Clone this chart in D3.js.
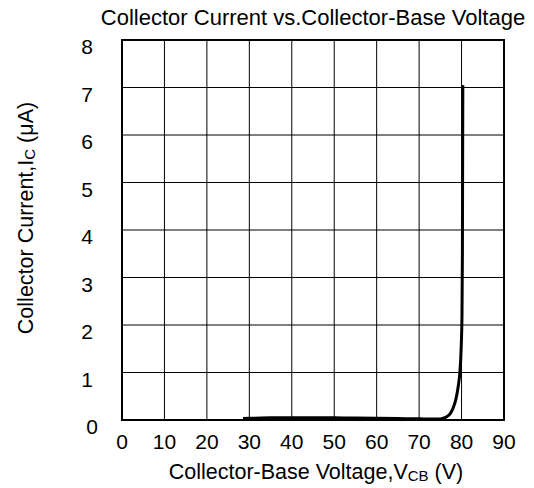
<!DOCTYPE html>
<html>
<head>
<meta charset="utf-8">
<script src="https://cdn.jsdelivr.net/npm/d3@7"></script>
<style>
  body { margin: 0; background: #fff; }
  text { font-family: "Liberation Sans", Arial, sans-serif; fill: #000; }
</style>
</head>
<body>
<script>
// Collector-base leakage curve
var voltage = [28.5, 30, 35, 40, 45, 50, 55, 60, 65, 70, 73, 74.5, 75.5, 76.5, 77.3, 78, 78.7, 79.2, 79.6, 79.9, 80.1, 80.2, 80.3];
var current = [0.03, 0.035, 0.045, 0.05, 0.05, 0.045, 0.04, 0.035, 0.03, 0.025, 0.02, 0.022, 0.035, 0.07, 0.13, 0.25, 0.45, 0.7, 1.0, 1.5, 2.2, 3.5, 7.05];

var xTicks = [0, 10, 20, 30, 40, 50, 60, 70, 80, 90];
var yTicks = [0, 1, 2, 3, 4, 5, 6, 7, 8];

var margin = {top: 40, right: 30, bottom: 68, left: 122};
var width = 534 - margin.left - margin.right,
    height = 488 - margin.top - margin.bottom;

var svg = d3.select("body").append("svg")
  .attr("width", 534)
  .attr("height", 488);

var g = svg.append("g")
  .attr("transform", "translate(" + margin.left + "," + margin.top + ")");

var x = d3.scaleLinear().domain([0, 90]).range([0, width]);
var y = d3.scaleLinear().domain([0, 8]).range([height, 0]);

// grid
g.append("g").selectAll("line")
  .data(xTicks.slice(1, -1))
  .enter().append("line")
  .attr("x1", function(d){ return x(d); })
  .attr("x2", function(d){ return x(d); })
  .attr("y1", 0).attr("y2", height)
  .attr("stroke", "#000").attr("stroke-width", 1);

g.append("g").selectAll("line")
  .data(yTicks.slice(1, -1))
  .enter().append("line")
  .attr("y1", function(d){ return y(d); })
  .attr("y2", function(d){ return y(d); })
  .attr("x1", 0).attr("x2", width)
  .attr("stroke", "#000").attr("stroke-width", 1);

// frame
g.append("rect")
  .attr("x", 0).attr("y", 0)
  .attr("width", width).attr("height", height)
  .attr("fill", "none")
  .attr("stroke", "#000")
  .attr("stroke-width", 2);

// curve
var line = d3.line()
  .x(function(d){ return x(d[0]); })
  .y(function(d){ return y(d[1]); })
  .curve(d3.curveMonotoneX);

g.append("path")
  .datum(d3.zip(voltage, current))
  .attr("fill", "none")
  .attr("stroke", "#000")
  .attr("stroke-width", 3)
  .attr("stroke-linejoin", "round")
  .attr("d", line);

// tick labels
g.append("g").selectAll("text")
  .data(xTicks)
  .enter().append("text")
  .attr("x", function(d){ return x(d); })
  .attr("y", height + 29)
  .attr("text-anchor", "middle")
  .style("font-size", "21px")
  .text(function(d){ return d; });

g.append("g").selectAll("text")
  .data(yTicks)
  .enter().append("text")
  .attr("x", function(d){ return d == 0 ? -30 : -35; })
  .attr("y", function(d){ return y(d) + 14; })
  .attr("text-anchor", "middle")
  .style("font-size", "21px")
  .text(function(d){ return d; });

// title
svg.append("text")
  .attr("x", 313)
  .attr("y", 25)
  .attr("text-anchor", "middle")
  .style("font-size", "22px")
  .text("Collector Current vs.Collector-Base Voltage");

// x label
var xl = svg.append("text")
  .attr("x", 316)
  .attr("y", 479)
  .attr("text-anchor", "middle")
  .style("font-size", "21.5px");
xl.append("tspan").text("Collector-Base Voltage,V");
xl.append("tspan").attr("dy", 2).style("font-size", "15px").text("CB");
xl.append("tspan").attr("dy", -2).text(" (V)");

// y label
var yl = svg.append("text")
  .attr("transform", "translate(33,218) rotate(-90)")
  .attr("text-anchor", "middle")
  .style("font-size", "21.5px");
yl.append("tspan").text("Collector Current,I");
yl.append("tspan").attr("dy", 2).style("font-size", "15px").text("C");
yl.append("tspan").attr("dy", -2).text(" (\u03bcA)");
</script>
</body>
</html>
